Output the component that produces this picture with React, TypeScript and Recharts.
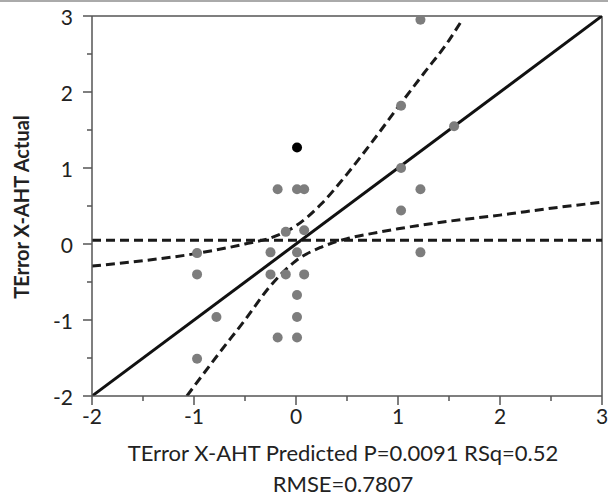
import { ComposedChart, Line, ReferenceLine, Scatter, XAxis, YAxis } from 'recharts'

const font = 'Lato, "Open Sans", sans-serif'

// gray observations (predicted, actual)
const predicted = [-0.18, 0.01, 0.08, -0.1, 0.08, -0.97, -0.25, 0.01, -0.97, -0.25, -0.1, 0.08, 0.01, -0.78, 0.01, -0.18, 0.01, -0.97, 1.22, 1.03, 1.55, 1.03, 1.22, 1.03, 1.22]
const actual = [0.72, 0.72, 0.72, 0.16, 0.18, -0.12, -0.11, -0.11, -0.4, -0.4, -0.4, -0.4, -0.67, -0.96, -0.96, -1.23, -1.23, -1.51, 2.95, 1.82, 1.55, 1.0, 0.72, 0.44, -0.11]
// highlighted observation
const selected = [{ x: 0.01, y: 1.27 }]

// fit line, mean line, confidence curves
const fitX = [-2, 3]
const fitY = [-2, 3]
const meanX = [-2, 3]
const meanY = [0.05, 0.05]
const upperX = [-2, -1.5, -1, -0.5, -0.25, 0, 0.25, 0.5, 0.75, 1, 1.25, 1.5, 1.62]
const upperY = [-0.29, -0.22, -0.13, 0.0, 0.08, 0.24, 0.53, 0.92, 1.35, 1.8, 2.24, 2.68, 2.93]
const lowerX = [-1.07, -0.75, -0.5, -0.25, 0, 0.25, 0.5, 0.75, 1, 1.5, 2, 2.5, 3]
const lowerY = [-2, -1.43, -1.0, -0.55, -0.22, -0.04, 0.07, 0.14, 0.2, 0.3, 0.38, 0.47, 0.55]

const ticks = [-2, -1.5, -1, -0.5, 0, 0.5, 1, 1.5, 2, 2.5, 3]

const points = predicted.map((x, i) => ({ x, y: actual[i] }))
const pairs = (xs: number[], ys: number[]) => xs.map((x, i) => ({ x, y: ys[i] }))

function XTick(props: any) {
  const { x, y, payload } = props
  const major = Number.isInteger(payload.value)
  return (
    <g>
      <line x1={x} x2={x} y1={y} y2={y + (major ? 9 : 5)} stroke="#555" strokeWidth={1.5} />
      {major && (
        <text x={x} y={y + 19} textAnchor="middle" dominantBaseline="central" fontFamily={font} fontSize={21} fill="#222">
          {payload.value}
        </text>
      )}
    </g>
  )
}

function YTick(props: any) {
  const { x, y, payload } = props
  const major = Number.isInteger(payload.value)
  return (
    <g>
      <line x1={x} x2={x - (major ? 9 : 5)} y1={y} y2={y} stroke="#555" strokeWidth={1.5} />
      {major && (
        <text x={x - 19} y={y} textAnchor="end" dominantBaseline="central" fontFamily={font} fontSize={21} fill="#222">
          {payload.value}
        </text>
      )}
    </g>
  )
}

const dot = (fill: string) => (p: any) => <circle cx={p.cx} cy={p.cy} r={5} fill={fill} />

export default function App() {
  return (
    <div style={{ position: 'fixed', left: 0, top: 0, width: 608, height: 496, background: '#fff', overflow: 'hidden' }}>
      <div style={{ position: 'absolute', left: 0, top: 0, width: 608, height: 2, background: '#aaa' }} />
      <ComposedChart width={608} height={496} margin={{ top: 16, right: 6, bottom: 70, left: 0 }}>
        <XAxis
          type="number"
          dataKey="x"
          domain={[-2, 3]}
          ticks={ticks}
          allowDataOverflow
          height={30}
          tickSize={0}
          tickMargin={0}
          tickLine={false}
          tick={<XTick />}
          axisLine={{ stroke: '#555', strokeWidth: 1.5 }}
          interval={0}
        />
        <YAxis
          type="number"
          dataKey="y"
          domain={[-2, 3]}
          ticks={ticks}
          allowDataOverflow
          width={92}
          tickSize={0}
          tickMargin={0}
          tickLine={false}
          tick={<YTick />}
          axisLine={{ stroke: '#555', strokeWidth: 1.5 }}
          interval={0}
        />
        <ReferenceLine y={3} stroke="#555" strokeWidth={1.5} />
        <ReferenceLine x={3} stroke="#555" strokeWidth={1.5} />
        <Line data={pairs(meanX, meanY)} dataKey="y" type="linear" stroke="#1a1a1a" strokeWidth={3} strokeDasharray="9 5" dot={false} isAnimationActive={false} />
        <Line data={pairs(upperX, upperY)} dataKey="y" type="monotone" stroke="#1a1a1a" strokeWidth={3} strokeDasharray="9 5" dot={false} isAnimationActive={false} />
        <Line data={pairs(lowerX, lowerY)} dataKey="y" type="monotone" stroke="#1a1a1a" strokeWidth={3} strokeDasharray="9 5" dot={false} isAnimationActive={false} />
        <Line data={pairs(fitX, fitY)} dataKey="y" type="linear" stroke="#111" strokeWidth={3} dot={false} isAnimationActive={false} />
        <Scatter data={points} dataKey="y" shape={dot('#7d7d7d')} isAnimationActive={false} />
        <Scatter data={selected} dataKey="y" shape={dot('#000')} isAnimationActive={false} />
      </ComposedChart>
      <div
        style={{
          position: 'absolute',
          left: 0,
          top: 92,
          width: 42,
          height: 230,
          display: 'flex',
          alignItems: 'center',
          justifyContent: 'center',
        }}
      >
        <div style={{ transform: 'rotate(-90deg)', whiteSpace: 'nowrap', fontFamily: font, fontWeight: 700, fontSize: 20, color: '#222' }}>
          TError X-AHT Actual
        </div>
      </div>
      <div style={{ position: 'absolute', left: 93, width: 500, top: 437, textAlign: 'center', fontFamily: font, fontSize: 22, color: '#222', lineHeight: '31px' }}>
        TError X-AHT Predicted P=0.0091 RSq=0.52
        <br />
        RMSE=0.7807
      </div>
    </div>
  )
}
